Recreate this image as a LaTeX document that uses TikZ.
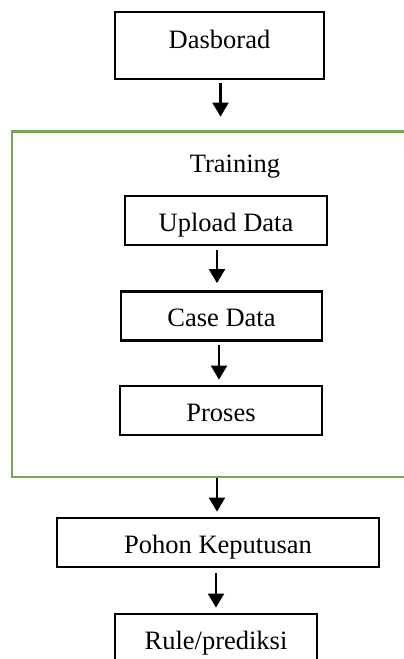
\documentclass[tikz,border=0pt]{standalone}
\usepackage{fontspec}
\setmainfont{Liberation Serif}
\usetikzlibrary{arrows.meta}
\definecolor{framegreen}{RGB}{112,173,71}
\begin{document}
\begin{tikzpicture}[x=1pt,y=-1pt,
  box/.style={draw,line width=2.8pt,inner sep=0pt,minimum height=49pt,
    text height=22pt,text depth=1pt,font=\fontsize{26.5}{30}\selectfont},
  arr/.style={line width=2.3pt,-{Triangle[width=16pt,length=14pt]}}]

\clip (0,0) rectangle (404,659);

\node[draw=framegreen,line width=2.8pt,inner sep=0pt,minimum width=410pt,minimum height=345.5pt] (frame) at (217,304.25) {};
\node[anchor=base,font=\fontsize{26.5}{30}\selectfont] (train) at (235,172) {Training};

\node[box,minimum width=209pt,minimum height=67pt,text height=18pt,text depth=12pt] (dash) at (219.5,45.5) {Dasborad};
\node[box,minimum width=202pt] (upload) at (226,220.5) {Upload Data};
\node[box,minimum width=201pt] (case)   at (221.5,316) {Case Data};
\node[box,minimum width=202pt] (proses) at (221,410.5) {Proses};
\node[box,minimum width=322pt] (pohon)  at (218,542.5) {Pohon Keputusan};
\node[box,minimum width=202pt] (rule)   at (216,638.5) {Rule/prediksi};

\draw[arr,shorten <=3pt,shorten >=13.5pt] ([xshift=1pt]dash.south) -- ([xshift=1pt]dash.south |- frame.north);
\draw[arr,shorten <=4pt,shorten >=7pt] ([xshift=-9pt]upload.south) -- ([xshift=-4.5pt]case.north);
\draw[arr,shorten <=3pt,shorten >=5pt] ([xshift=-2.5pt]case.south) -- ([xshift=-2pt]proses.north);
\draw[arr,shorten >=5pt] (frame.south) -- ([xshift=-1pt]pohon.north);
\draw[arr,shorten <=5pt,shorten >=5pt] ([xshift=-2pt]pohon.south) -- (rule.north);

\end{tikzpicture}
\end{document}
